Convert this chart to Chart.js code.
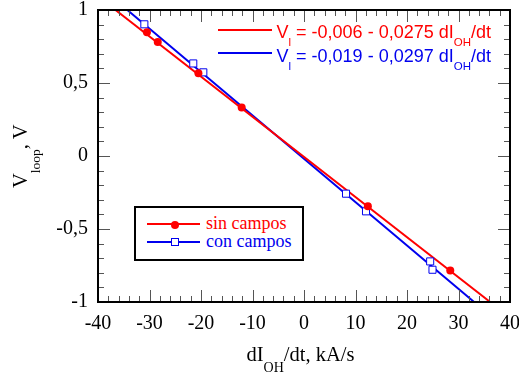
<!DOCTYPE html>
<html><head><meta charset="utf-8">
<script src="https://cdn.jsdelivr.net/npm/chart.js@4/dist/chart.umd.min.js"></script>
<style>
html,body{margin:0;padding:0;background:#fff;}
#wrap{position:relative;width:519px;height:380px;overflow:hidden;background:#fff;}
#c{position:absolute;left:0;top:0;}
.ov{position:absolute;white-space:nowrap;line-height:20px;}
.serif{font-family:'Liberation Serif','Times New Roman',serif;}
.sans{font-family:'Liberation Sans',Arial,sans-serif;}
.sub{position:relative;}
</style>
</head><body>
<div id="wrap">
<canvas id="c" width="519" height="380"></canvas>

<!-- fit equations -->
<div class="ov" style="left:218px;top:29px;width:54px;height:0;border-top:2px solid #ff0000;"></div>
<div class="ov sans" style="left:276.5px;top:22px;font-size:18px;color:#ff0000;">V<span class="sub" style="font-size:11.5px;top:8px;">l</span> = -0,006 - 0,0275 dI<span class="sub" style="font-size:11.5px;top:8px;">OH</span>/dt</div>
<div class="ov" style="left:218px;top:52px;width:54px;height:0;border-top:2px solid #0000ee;"></div>
<div class="ov sans" style="left:276.5px;top:45.5px;font-size:18px;color:#0000ee;">V<span class="sub" style="font-size:11.5px;top:8px;">l</span> = -0,019 - 0,0297 dI<span class="sub" style="font-size:11.5px;top:8px;">OH</span>/dt</div>

<!-- legend box -->
<div class="ov" style="left:134px;top:206px;width:166px;height:51px;border:2px solid #000;background:#fff;"></div>
<div class="ov" style="left:147px;top:223px;width:53px;height:0;border-top:2px solid #ff0000;"></div>
<div class="ov" style="left:170.5px;top:220.5px;width:8px;height:8px;border-radius:50%;background:#ff0000;"></div>
<div class="ov serif" style="left:206px;top:213px;font-size:18px;color:#ff0000;">sin campos</div>
<div class="ov" style="left:147px;top:241px;width:53px;height:0;border-top:2px solid #0000ee;"></div>
<div class="ov" style="left:170.5px;top:238px;width:6px;height:6px;border:1px solid #0000ee;background:#fff;"></div>
<div class="ov serif" style="left:206px;top:230.5px;font-size:18px;color:#0000ee;">con campos</div>

<!-- axis titles -->
<div class="ov serif" style="left:246.5px;top:344px;font-size:20.5px;color:#000;">dI<span class="sub" style="font-size:14px;top:11px;">OH</span>/dt, kA/s</div>
<div class="ov serif" style="left:10px;top:188px;font-size:20.5px;color:#000;transform-origin:0 0;transform:rotate(-90deg);">V<span class="sub" style="font-size:13.5px;top:13px;">loop</span>, V</div>
</div>

<script>
// ---- data ----
const sinCamposX = [-30.5, -28.4, -20.5, -12.1, 12.4, 28.4];
const sinCamposY = [0.847, 0.780, 0.566, 0.332, -0.345, -0.784];
const conCamposX = [-31.0, -21.5, -19.55, 8.16, 12.04, 24.5, 24.95];
const conCamposY = [0.902, 0.634, 0.573, -0.258, -0.379, -0.722, -0.779];
// fitted lines (end points where they leave the frame)
const fitSinX = [-36.6, 36.15];
const fitSinY = [1, -1];
const fitConX = [-34.3, 33.03];
const fitConY = [1, -1];
// axis ticks
const xTickValues = [-40, -30, -20, -10, 0, 10, 20, 30, 40];
const xTickLabels = ['-40', '-30', '-20', '-10', '0', '10', '20', '30', '40'];
const yTickValues = [-1, -0.5, 0, 0.5, 1];
const yTickLabels = ['-1', '-0,5', '0', '0,5', '1'];

const RED = '#ff0000';
const BLUE = '#0000ee';

function pts(xs, ys) { return xs.map((x, i) => ({ x: x, y: ys[i] })); }

function noPad(s) { s.paddingTop = 0; s.paddingBottom = 0; s.paddingLeft = 0; s.paddingRight = 0; }

const frameTicks = {
  id: 'frameTicks',
  afterDatasetsDraw(chart) {
    const ctx = chart.ctx;
    const xs = chart.scales.x, ys = chart.scales.y;
    const L = xs.left, R = xs.right, T = ys.top, B = ys.bottom;
    ctx.save();
    ctx.strokeStyle = '#555';
    ctx.lineWidth = 1;
    ctx.beginPath();
    for (let k = 0; k <= 40; k++) {
      const v = -40 + k * 2;
      const len = (k % 5 === 0) ? 12 : 6;
      const px = Math.round(xs.getPixelForValue(v)) + 0.5;
      ctx.moveTo(px, B); ctx.lineTo(px, B - len);
      ctx.moveTo(px, T); ctx.lineTo(px, T + len);
    }
    for (let k = 0; k <= 20; k++) {
      const v = -1 + k * 0.1;
      const len = (k % 5 === 0) ? 12 : 6;
      const py = Math.round(ys.getPixelForValue(v)) + 0.5;
      ctx.moveTo(L, py); ctx.lineTo(L + len, py);
      ctx.moveTo(R, py); ctx.lineTo(R - len, py);
    }
    ctx.stroke();
    ctx.strokeStyle = '#000';
    ctx.lineWidth = 2;
    ctx.strokeRect(L, T, R - L, B - T);
    ctx.restore();
  }
};

new Chart(document.getElementById('c'), {
  type: 'scatter',
  data: {
    datasets: [
      { label: 'sin campos', data: pts(sinCamposX, sinCamposY), showLine: false,
        pointStyle: 'circle', pointRadius: 4, pointBackgroundColor: RED, pointBorderColor: RED, pointBorderWidth: 0, order: 0 },
      { label: 'con campos', data: pts(conCamposX, conCamposY), showLine: false,
        pointStyle: 'rect', pointRadius: 5, pointBackgroundColor: '#fff', pointBorderColor: BLUE, pointBorderWidth: 1, order: 0 },
      { label: 'fit sin', data: pts(fitSinX, fitSinY), showLine: true, borderColor: RED, borderWidth: 2,
        pointRadius: 0, fill: false, order: 1 },
      { label: 'fit con', data: pts(fitConX, fitConY), showLine: true, borderColor: BLUE, borderWidth: 2,
        pointRadius: 0, fill: false, order: 1 }
    ]
  },
  options: {
    responsive: false,
    animation: false,
    layout: { padding: { top: 10, right: 9, left: 0, bottom: 0 } },
    plugins: { legend: { display: false }, tooltip: { enabled: false } },
    scales: {
      x: {
        type: 'linear', min: -40, max: 40,
        afterFit(s) { s.height = 78; noPad(s); },
        afterBuildTicks(s) { s.ticks = xTickValues.map(v => ({ value: v })); },
        grid: { display: false, drawTicks: false },
        border: { display: false },
        ticks: {
          padding: 10, color: '#000', maxRotation: 0, autoSkip: false,
          font: { family: "'Liberation Serif', serif", size: 20 },
          callback: (v) => { const i = xTickValues.indexOf(v); return i >= 0 ? xTickLabels[i] : ''; }
        }
      },
      y: {
        type: 'linear', min: -1, max: 1,
        afterFit(s) { s.width = 98; noPad(s); },
        afterBuildTicks(s) { s.ticks = yTickValues.map(v => ({ value: v })); },
        grid: { display: false, drawTicks: false },
        border: { display: false },
        ticks: {
          padding: 10, color: '#000', autoSkip: false,
          font: { family: "'Liberation Serif', serif", size: 20 },
          callback: (v) => { const i = yTickValues.findIndex(t => Math.abs(t - v) < 1e-9); return i >= 0 ? yTickLabels[i] : ''; }
        }
      }
    }
  },
  plugins: [frameTicks]
});
</script>
</body></html>
